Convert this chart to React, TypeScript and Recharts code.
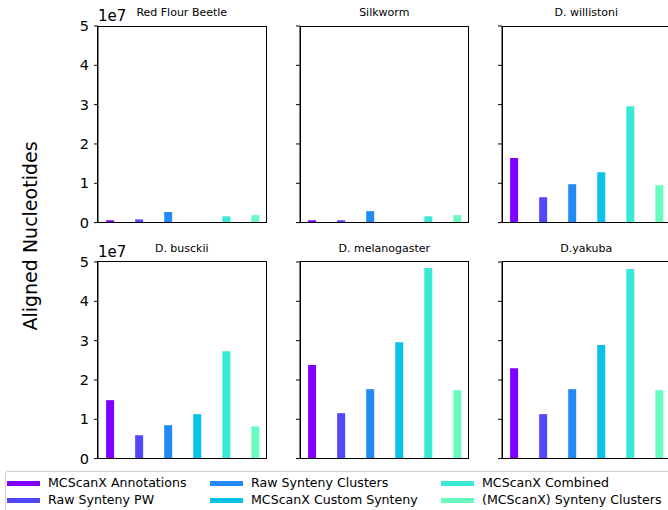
import { BarChart, Bar, XAxis, YAxis, Cell } from "recharts";

const METHODS = [
  "MCScanX Annotations",
  "Raw Synteny PW",
  "Raw Synteny Clusters",
  "MCScanX Custom Synteny",
  "MCScanX Combined",
  "(MCScanX) Synteny Clusters",
];

// rainbow colormap samples
const COLORS = ["#8000ff", "#5148fc", "#238af5", "#0cc1e8", "#3ae8d6", "#68fcc1"];

const SPECIES = [
  "Red Flour Beetle",
  "Silkworm",
  "D. willistoni",
  "D. busckii",
  "D. melanogaster",
  "D.yakuba",
];

// aligned nucleotides, units of 1e7
const redFlourBeetle = [0.06, 0.08, 0.27, 0.01, 0.16, 0.19];
const silkworm = [0.06, 0.06, 0.29, 0.01, 0.16, 0.19];
const willistoni = [1.64, 0.645, 0.976, 1.28, 2.96, 0.95];
const busckii = [1.486, 0.594, 0.849, 1.13, 2.73, 0.82];
const melanogaster = [2.38, 1.155, 1.766, 2.96, 4.85, 1.74];
const yakuba = [2.3, 1.13, 1.766, 2.89, 4.82, 1.74];

const Y_TICKS = [0, 1e7, 2e7, 3e7, 4e7, 5e7];

const SERIES = [redFlourBeetle, silkworm, willistoni, busckii, melanogaster, yakuba];

const FONT = "'DejaVu Sans', sans-serif";
const PLOT_W = 168.5;
const PLOT_H = 196.6;
const COL_X = [97.5, 300, 502];
const ROW_Y = [26, 261.7];
const AXIS_W = 40;
const M = 10;

function Panel({ idx }: { idx: number }) {
  const col = idx % 3;
  const row = Math.floor(idx / 3);
  const data = SERIES[idx].map((v, i) => ({ x: i, value: v * 1e7, name: METHODS[i] }));
  const showLabels = col === 0;
  const left = COL_X[col] - AXIS_W - M;
  const top = ROW_Y[row] - M;
  return (
    <>
      <div style={{ position: "absolute", left, top }}>
        <BarChart
          width={PLOT_W + AXIS_W + 2 * M}
          height={PLOT_H + 2 * M}
          data={data}
          margin={{ top: M, right: M, bottom: M, left: M }}
        >
          <XAxis
            dataKey="x"
            type="number"
            domain={[-0.4, 5.4]}
            tick={false}
            tickLine={false}
            axisLine={false}
            height={0}
          />
          <YAxis
            type="number"
            domain={[0, 5e7]}
            ticks={Y_TICKS}
            interval={0}
            width={AXIS_W}
            tickSize={4}
            tickMargin={5}
            tickLine={{ stroke: "#000" }}
            axisLine={{ stroke: "#000", strokeWidth: 1 }}
            tick={{ fontSize: 14.5, fill: "#000", fontFamily: FONT }}
            tickFormatter={(v) => (showLabels ? String(Math.round(v / 1e7)) : "")}
          />
          <Bar dataKey="value" barSize={8} isAnimationActive={false}>
            {data.map((d, i) => (
              <Cell key={d.name} fill={COLORS[i]} />
            ))}
          </Bar>
        </BarChart>
      </div>
      <div
        style={{
          position: "absolute",
          left: COL_X[col] - 0.5,
          top: ROW_Y[row] - 0.5,
          width: PLOT_W + 1,
          height: PLOT_H + 1,
          border: "1px solid #000",
          boxSizing: "border-box",
          pointerEvents: "none",
        }}
      />
    </>
  );
}

export default function App() {
  return (
    <div
      style={{
        position: "absolute",
        left: 0,
        top: 0,
        width: 668,
        height: 510,
        overflow: "hidden",
        background: "#fff",
        fontFamily: FONT,
        color: "#000",
      }}
    >
      {SPECIES.map((s, i) => (
        <Panel key={s} idx={i} />
      ))}
      {SPECIES.map((s, i) => {
        const col = i % 3;
        const row = Math.floor(i / 3);
        return (
          <div
            key={"t" + s}
            style={{
              position: "absolute",
              left: COL_X[col],
              width: PLOT_W,
              top: row === 0 ? 5 : 240.5,
              textAlign: "center",
              fontSize: 11,
              lineHeight: "15px",
              whiteSpace: "nowrap",
            }}
          >
            {s}
          </div>
        );
      })}
      {[0, 1].map((r) => (
        <div
          key={"e" + r}
          style={{
            position: "absolute",
            left: 98,
            top: r === 0 ? 6 : 242,
            fontSize: 15,
            lineHeight: "20px",
          }}
        >
          1e7
        </div>
      ))}
      <div
        style={{
          position: "absolute",
          left: 30,
          top: 236,
          transform: "translate(-50%, -50%) rotate(-90deg)",
          fontSize: 19,
          whiteSpace: "nowrap",
        }}
      >
        Aligned Nucleotides
      </div>
      <div
        style={{
          position: "absolute",
          left: 5,
          top: 471,
          width: 700,
          height: 60,
          border: "1px solid #d0d0d0",
          borderRadius: 3,
          boxSizing: "border-box",
        }}
      />
      {METHODS.map((m, i) => {
        const col = Math.floor(i / 2);
        const row = i % 2;
        const x = [7, 210, 441][col];
        const y = row === 0 ? 483 : 500;
        return (
          <div key={m}>
            <div
              style={{
                position: "absolute",
                left: x,
                top: y - 2.5,
                width: 33,
                height: 5,
                background: COLORS[i],
              }}
            />
            <div
              style={{
                position: "absolute",
                left: x + 41,
                top: y - 9,
                fontSize: 12.6,
                lineHeight: "18px",
                whiteSpace: "nowrap",
              }}
            >
              {m}
            </div>
          </div>
        );
      })}
    </div>
  );
}
